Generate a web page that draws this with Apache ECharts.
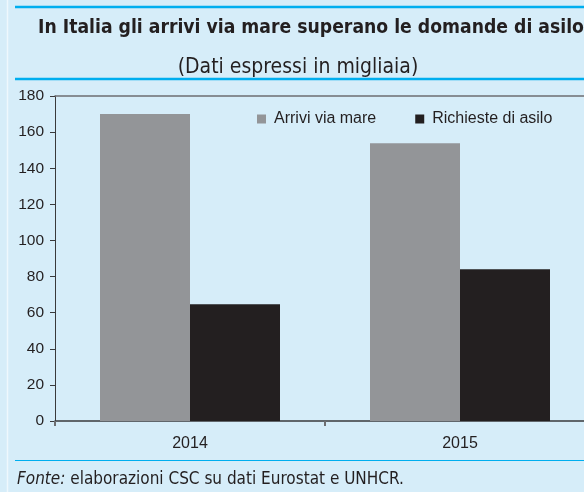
<!DOCTYPE html>
<html>
<head>
<meta charset="utf-8">
<script src="https://cdn.jsdelivr.net/npm/echarts@6/dist/echarts.min.js"></script>
<style>
html,body{margin:0;padding:0;background:#d6edf9;overflow:hidden;width:584px;height:492px;}
#c{width:600px;height:492px;}
</style>
</head>
<body>
<div id="c"></div>
<script>
var categories = ['2014', '2015'];
var arriviViaMare = [170.1, 153.8];
var richiesteAsilo = [64.6, 84.0];
var seriesNames = ['Arrivi via mare', 'Richieste di asilo'];
var yTicks = { min: 0, max: 180, interval: 20 };

var narrow = "'Liberation Sans Narrow', 'DejaVu Sans Condensed', sans-serif";
var sans = "'Liberation Sans', Arial, sans-serif";
var ink = '#231f20';

var chart = echarts.init(document.getElementById('c'), null, {renderer: 'canvas'});
chart.setOption({
  backgroundColor: '#d6edf9',
  animation: false,
  title: [
    {
      text: 'In Italia gli arrivi via mare superano le domande di asilo',
      left: 306, top: 14, textAlign: 'center',
      textStyle: { fontFamily: narrow, fontWeight: 'bold', fontSize: 19.2, color: ink }
    },
    {
      text: '(Dati espressi in migliaia)',
      left: 293, top: 52, textAlign: 'center',
      textStyle: { fontFamily: narrow, fontWeight: 'normal', fontSize: 21, color: ink }
    },
    {
      text: '{i|Fonte:} elaborazioni CSC su dati Eurostat e UNHCR.',
      left: 12, top: 466,
      textStyle: {
        fontFamily: narrow, fontWeight: 'normal', fontSize: 17, color: ink,
        rich: { i: { fontFamily: narrow, fontStyle: 'italic', fontSize: 17, color: ink } }
      }
    }
  ],
  graphic: [
    { type: 'line', shape: { x1: 7.5, y1: 0, x2: 7.5, y2: 492 }, style: { stroke: '#eef8fd', lineWidth: 1.5 } },
    { type: 'line', shape: { x1: 15, y1: 7, x2: 600, y2: 7 }, style: { stroke: '#00aeef', lineWidth: 2.5 } },
    { type: 'line', shape: { x1: 15, y1: 79, x2: 600, y2: 79 }, style: { stroke: '#00aeef', lineWidth: 2.5 } },
    { type: 'line', shape: { x1: 15, y1: 460.5, x2: 600, y2: 460.5 }, style: { stroke: '#00aeef', lineWidth: 1.2 } }
  ],
  legend: {
    data: seriesNames,
    left: 252, top: 106,
    icon: 'rect', itemWidth: 9, itemHeight: 9, itemGap: 39,
    textStyle: { fontFamily: sans, fontSize: 16, color: ink, padding: [0, 0, 0, 3] }
  },
  grid: { left: 55, right: 5, top: 96, bottom: 71, containLabel: false },
  xAxis: [
    {
      type: 'category', data: categories,
      axisLine: { show: true, lineStyle: { color: '#3a3a3c', width: 1.5 } },
      axisTick: { show: true, length: 5, lineStyle: { color: '#6d6e71', width: 2 } },
      axisLabel: { fontFamily: sans, fontSize: 16, color: ink, margin: 15 }
    },
    {
      type: 'category', data: categories, position: 'top',
      axisLine: { show: true, lineStyle: { color: '#6d6e71', width: 1.5 } },
      axisTick: { show: false }, axisLabel: { show: false }
    }
  ],
  yAxis: {
    type: 'value', min: yTicks.min, max: yTicks.max, interval: yTicks.interval,
    axisLine: { show: true, lineStyle: { color: '#3a3a3c', width: 1 } },
    axisTick: { show: true, length: 5, lineStyle: { color: '#3a3a3c' } },
    splitLine: { show: false },
    axisLabel: { fontFamily: sans, fontSize: 15.5, color: ink, margin: 11 }
  },
  series: [
    {
      name: seriesNames[0], type: 'bar', data: arriviViaMare,
      barWidth: 90, barGap: '0%',
      itemStyle: { color: '#939598' }
    },
    {
      name: seriesNames[1], type: 'bar', data: richiesteAsilo,
      barWidth: 90,
      itemStyle: { color: '#231f20' }
    }
  ]
});
</script>
</body>
</html>
